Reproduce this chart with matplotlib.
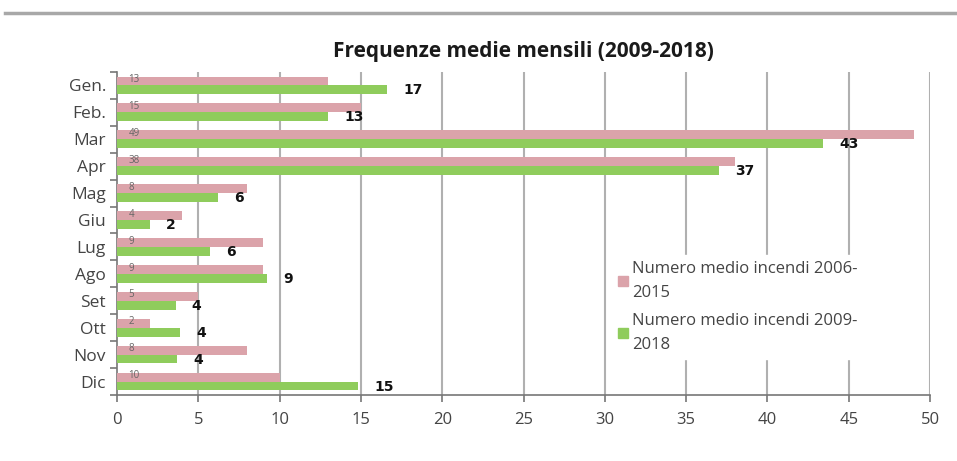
import matplotlib.pyplot as plt
import matplotlib.lines as mlines
import numpy as np

# data
mesi = ["Gen.", "Feb.", "Mar", "Apr", "Mag", "Giu", "Lug", "Ago", "Set", "Ott", "Nov", "Dic"]
media_2006_2015 = [13, 15, 49, 38, 8, 4, 9, 9, 5, 2, 8, 10]
media_2009_2018 = [16.6, 13.0, 43.4, 37.0, 6.2, 2.0, 5.7, 9.2, 3.6, 3.9, 3.7, 14.8]
xticks = [0, 5, 10, 15, 20, 25, 30, 35, 40, 45, 50]

pink = "#dba3aa"
green = "#8fcc5c"
font = "Open Sans"

fig = plt.figure(figsize=(9.57, 4.61), dpi=100)
ax = fig.add_axes([0.1223, 0.1432, 0.8495, 0.7006])

# gray line on top of the page
fig.add_artist(mlines.Line2D([0.005, 1.0], [0.972, 0.972], color="#a8a8a8", lw=2.5,
                             transform=fig.transFigure))

y = np.arange(len(mesi))
h = 0.33
ax.barh(y - h / 2, media_2006_2015, height=h, color=pink, zorder=3)
ax.barh(y + h / 2, media_2009_2018, height=h, color=green, zorder=3)

for i, (p, g) in enumerate(zip(media_2006_2015, media_2009_2018)):
    ax.text(0.7, i - h / 2 - 0.05, str(p), fontsize=7, color="#666666",
            va="center", ha="left", zorder=4, family=font)
    ax.text(g + 1.0, i + h / 2 + 0.02, str(int(round(g))), fontsize=10,
            fontweight="bold", color="#111111", va="center", ha="left", zorder=4)

ax.set_xlim(0, 50)
ax.set_ylim(len(mesi) - 0.5, -0.5)
ax.set_xticks(xticks)
ax.set_xticklabels([str(t) for t in xticks], fontsize=12, color="#444444", family=font)
ax.tick_params(axis="x", length=5, width=1.2, color="#777777", pad=7)

# category labels at centres, ticks at boundaries
ax.set_yticks(np.arange(len(mesi) + 1) - 0.5)
ax.set_yticklabels([])
ax.tick_params(axis="y", which="major", length=5, width=1.2, color="#777777")
ax.set_yticks(y, minor=True)
ax.set_yticklabels(mesi, minor=True, fontsize=12.5, color="#444444", family=font)
ax.tick_params(axis="y", which="minor", length=0, pad=8)

for t in xticks[1:]:
    ax.axvline(t, color="#b0b0b0", lw=1.5, zorder=1)

for s in ["top", "right"]:
    ax.spines[s].set_visible(False)
ax.spines["left"].set_color("#777777")
ax.spines["bottom"].set_color("#777777")
ax.spines["left"].set_linewidth(1.2)
ax.spines["bottom"].set_linewidth(1.2)

ax.set_title("Frequenze medie mensili (2009-2018)", fontsize=15, fontweight="bold",
             color="#1a1a1a", pad=11, family=font)

h1 = mlines.Line2D([], [], marker="s", ls="", color=pink, markersize=7)
h2 = mlines.Line2D([], [], marker="s", ls="", color=green, markersize=7)
leg = ax.legend([h1, h2], ["Numero medio incendi 2006-\n2015", "Numero medio incendi 2009-\n2018"],
                loc="upper left", bbox_to_anchor=(0.595, 0.46), frameon=True, fancybox=False,
                framealpha=1, edgecolor="white", facecolor="white", handletextpad=0.1,
                handlelength=0.9, labelspacing=0.7, borderpad=0.4,
                prop={"family": font, "size": 12})
for t in leg.get_texts():
    t.set_color("#444444")
    t.set_linespacing(1.65)
leg.set_zorder(5)

fig.savefig("out.png", dpi=100)
